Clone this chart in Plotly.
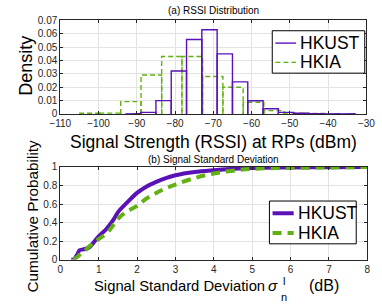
import plotly.graph_objects as go

# ---------------- data ----------------
# (a) RSSI histogram (density) - bin edges and heights
hkust_edges = [-93, -89, -85, -81, -77, -73, -69, -65, -61, -57, -53, -49, -45, -41, -37, -33]
hkust_density = [0.0001, 0.0012, 0.0100, 0.0322, 0.0557, 0.0630, 0.0450, 0.0240,
                 0.0099, 0.0039, 0.0012, 0.0005, 0.0002, 0.0001, 0.0001]
hkia_edges = [-104.9, -99.6, -94.2, -88.9, -83.5, -78.2, -72.8, -67.5, -62.2,
              -56.8, -51.5, -46.1, -40.8]
hkia_density = [0.0005, 0.0006, 0.0092, 0.0292, 0.0430, 0.0430, 0.0280, 0.0200,
                0.0088, 0.0025, 0.0006, 0.0003]

# (b) CDF of signal standard deviation
hkust_sd = [0.28, 0.35, 0.45, 0.5, 0.6, 0.75, 0.9, 1.0, 1.2, 1.4, 1.5, 1.75, 2.0,
            2.25, 2.5, 2.75, 3.0, 3.5, 4.0, 4.5, 5.0, 6.0, 7.0, 8.0]
hkust_cdf = [0.0, 0.0, 0.06, 0.10, 0.11, 0.13, 0.20, 0.25, 0.33, 0.44, 0.51, 0.62,
             0.72, 0.79, 0.84, 0.88, 0.91, 0.945, 0.965, 0.98, 0.99, 0.995, 0.998, 1.0]
hkia_sd = [0.35, 0.45, 0.5, 0.6, 0.75, 0.9, 1.0, 1.2, 1.4, 1.55, 1.75, 2.0, 2.25,
           2.5, 2.75, 3.0, 3.5, 4.0, 4.5, 5.0, 6.0, 7.0, 8.0]
hkia_cdf = [0.0, 0.03, 0.05, 0.08, 0.14, 0.19, 0.22, 0.28, 0.38, 0.46, 0.52, 0.58,
            0.66, 0.72, 0.77, 0.81, 0.88, 0.93, 0.96, 0.98, 0.99, 0.995, 1.0]

series_names = ["HKUST", "HKIA"]
x_ticks_a = [-110, -100, -90, -80, -70, -60, -50, -40, -30]
y_ticks_a = [0, 0.01, 0.02, 0.03, 0.04, 0.05, 0.06, 0.07]
x_ticks_b = [0, 1, 2, 3, 4, 5, 6, 7, 8]
y_ticks_b = [0, 0.2, 0.4, 0.6, 0.8, 1]

PURPLE = "#5a12b6"
GREEN = "#62b112"
FONT = "Liberation Sans"
AX = "#262626"
W, H = 382, 307


def rect_path(edges, heights):
    xs, ys = [], []
    for i, h in enumerate(heights):
        l, r = edges[i], edges[i + 1]
        xs += [l, l, r, r, None]
        ys += [0, h, h, 0, None]
    return xs, ys


def px_x(p):
    return p / W


def px_y(p):
    return 1 - p / H


fig = go.Figure()

px_, py_ = rect_path(hkust_edges, hkust_density)
gx_, gy_ = rect_path(hkia_edges, hkia_density)

thin = [dict(color=PURPLE, width=1.4), dict(color=GREEN, width=1.4, dash="5px,3px")]
thick = [dict(color=PURPLE, width=4), dict(color=GREEN, width=4, dash="9px,6px")]

fig.add_trace(go.Scatter(x=gx_, y=gy_, mode="lines", name=series_names[1],
                         line=thin[1], xaxis="x", yaxis="y", showlegend=False))
fig.add_trace(go.Scatter(x=px_, y=py_, mode="lines", name=series_names[0],
                         line=thin[0], xaxis="x", yaxis="y", showlegend=False))
fig.add_trace(go.Scatter(x=hkust_sd, y=hkust_cdf, mode="lines", name=series_names[0],
                         line=dict(shape="spline", **thick[0]),
                         xaxis="x2", yaxis="y2", showlegend=False))
fig.add_trace(go.Scatter(x=hkia_sd, y=hkia_cdf, mode="lines", name=series_names[1],
                         line=dict(shape="spline", **thick[1]),
                         xaxis="x2", yaxis="y2", showlegend=False))

axis_common = dict(showline=True, linecolor=AX, linewidth=1, mirror="allticks",
                   ticks="inside", ticklen=3, tickcolor=AX, showgrid=True,
                   gridcolor="#e3e3e3", gridwidth=1, zeroline=False,
                   tickfont=dict(family=FONT, size=10, color=AX))

fig.update_layout(
    width=W, height=H,
    margin=dict(l=0, r=0, t=0, b=0),
    paper_bgcolor="white", plot_bgcolor="white",
    font=dict(family=FONT, color="black"),
    showlegend=False,
    xaxis=dict(domain=[px_x(52), px_x(375)], range=[-110, -30], tickvals=x_ticks_a,
               anchor="y", **axis_common),
    yaxis=dict(domain=[px_y(113), px_y(16)], range=[0, 0.07], tickvals=y_ticks_a,
               ticktext=[f"{v:g}" for v in y_ticks_a], anchor="x", **axis_common),
    xaxis2=dict(domain=[px_x(52), px_x(376)], range=[0, 8], tickvals=x_ticks_b,
                anchor="y2", **axis_common),
    yaxis2=dict(domain=[px_y(264), px_y(168)], range=[0, 1], tickvals=y_ticks_b,
                ticktext=[f"{v:g}" for v in y_ticks_b], anchor="x2", **axis_common),
)

# legend boxes (pixel layout): box, line x-range, row y-centres, text x
legends = [
    dict(box=(275.7, 26.7, 373.3, 70.7), lx=(279, 300.7), rows=(39.5, 59.5), tx=303,
         styles=thin, size=17.5),
    dict(box=(272.7, 203.3, 364.3, 247.7), lx=(276, 298.3), rows=(216, 236.5), tx=301,
         styles=thick, size=17.5),
]
for lg in legends:
    x0, y0, x1, y1 = lg["box"]
    fig.add_shape(type="rect", xref="paper", yref="paper",
                  x0=px_x(x0), x1=px_x(x1), y0=px_y(y1), y1=px_y(y0),
                  line=dict(color="black", width=1), fillcolor="white", layer="above")
    for name, yy, st in zip(series_names, lg["rows"], lg["styles"]):
        fig.add_shape(type="line", xref="paper", yref="paper",
                      x0=px_x(lg["lx"][0]), x1=px_x(lg["lx"][1]),
                      y0=px_y(yy), y1=px_y(yy), line=st, layer="above")
        fig.add_annotation(text=name, x=px_x(lg["tx"]), y=px_y(yy), xref="paper",
                           yref="paper", xanchor="left", yanchor="middle",
                           showarrow=False,
                           font=dict(family=FONT, size=lg["size"], color="black"))

annots = [
    dict(text="(a) RSSI Distribution", x=213.5, y=6, size=10),
    dict(text="(b) Signal Standard Deviation", x=214, y=160, size=10),
    dict(text="Signal Strength (RSSI) at RPs (dBm)", x=213.5, y=142, size=17.5),
    dict(text="Signal Standard Deviation", x=178, y=291, size=14.8),
    dict(text="<i>σ</i>", x=277, y=291, size=15.2),
    dict(text="l", x=287.8, y=286.5, size=11),
    dict(text="n", x=288, y=302.5, size=11),
    dict(text="(dB)", x=330.5, y=291, size=16),
    dict(text="Density", x=16.5, y=63.5, size=18, angle=-90),
    dict(text="Cumulative Probability", x=22.5, y=219, size=15.3, angle=-90),
]
for a in annots:
    fig.add_annotation(text=a["text"], x=px_x(a["x"]), y=px_y(a["y"]),
                       xref="paper", yref="paper",
                       xanchor="center", yanchor="middle",
                       showarrow=False, textangle=a.get("angle", 0),
                       font=dict(family=FONT, size=a["size"], color="black"))

fig.write_html("out.html", config={"displayModeBar": False},
               post_script="document.body.style.margin='0';document.body.style.overflow='hidden';")
